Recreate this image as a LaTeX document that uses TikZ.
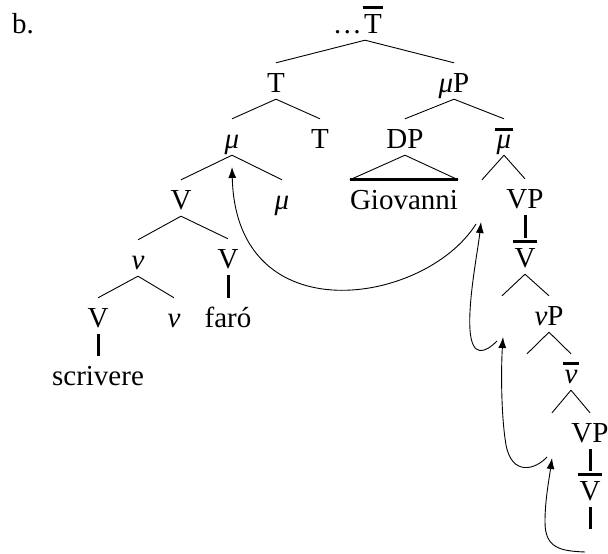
\documentclass[tikz,border=0pt]{standalone}
\usepackage{fontspec}
\setmainfont{Liberation Serif}
\usetikzlibrary{arrows.meta}
\newcommand{\barit}[2]{\setbox0=\hbox{#2}\leavevmode\rlap{\hspace{-1.5pt}\raisebox{#1}{\rule{\dimexpr\wd0+3pt\relax}{2.8pt}}}\box0}
\newcommand{\gmu}{\textit{μ}}
\newcommand{\gnu}{\textit{ν}}
\begin{document}
\begin{tikzpicture}[x=1pt,y=-1pt,
  lab/.style={inner xsep=0pt,inner ysep=2pt,text height=27pt,text depth=5pt,anchor=base,font=\fontsize{29}{34}\selectfont},
  branch/.style={line width=0.9pt},
  unary/.style={line width=3pt},
  mv/.style={line width=0.9pt,-{Latex[length=11pt,width=8pt]}}]
\useasboundingbox (0,0) rectangle (608,554);
% labels
\node[lab,anchor=base west] (lb) at (12,33) {b.};
\node[lab,anchor=base east] (dots) at (362,33) {…};
\node[lab] (top) at (373,33) {\barit{24pt}{T}};
\node[lab] (T1) at (276,92) {T};
\node[lab] (muP) at (454,92) {\gmu P};
\node[lab] (mu2) at (232,148) {\gmu};
\node[lab] (T2) at (320,148) {T};
\node[lab] (DP) at (405,148) {DP};
\node[lab] (mub) at (504,148) {\barit{17pt}{\gmu}};
\node[lab] (V3) at (181,209) {V};
\node[lab] (mu3) at (282,209) {\gmu};
\node[lab] (Gio) at (404,209) {Giovanni};
\node[lab] (t1) at (482,209) {};
\node[lab] (VP1) at (525,208) {VP};
\node[lab] (nu4) at (138,269) {\gnu};
\node[lab] (V4) at (228,268) {V};
\node[lab] (Vb1) at (525,267) {\barit{24pt}{V}};
\node[lab] (V5) at (98,327) {V};
\node[lab] (nu5) at (174,327) {\gnu};
\node[lab] (faro) at (228,327) {faró};
\node[lab] (t2) at (502,325) {};
\node[lab] (nuP) at (549,325) {\gnu P};
\node[lab] (scr) at (98,385) {scrivere};
\node[lab] (t3) at (527,383) {};
\node[lab] (nub) at (571,383) {\barit{18pt}{\gnu}};
\node[lab] (t4) at (552,442) {};
\node[lab] (VP2) at (590,442) {VP};
\node[lab] (Vb2) at (590,500) {\barit{24pt}{V}};
\coordinate (t5) at (590,529);
% branches
\draw[branch] ([xshift=-8pt]top.south) -- (T1.north);
\draw[branch] ([xshift=-8pt]top.south) -- (muP.north);
\draw[branch] (T1.south) -- (mu2.north);
\draw[branch] (T1.south) -- (T2.north);
\draw[branch] (muP.south) -- (DP.north);
\draw[branch] (muP.south) -- (mub.north);
\draw[branch] (mu2.south) -- (V3.north);
\draw[branch] (mu2.south) -- (mu3.north);
\draw[branch] (DP.south) -- (Gio.north west);
\draw[branch] (DP.south) -- (Gio.north east);
\draw[unary] (Gio.north west) -- (Gio.north east);
\draw[branch] (mub.south) -- (t1.north);
\draw[branch] (mub.south) -- (VP1.north);
\draw[branch] (V3.south) -- (nu4.north);
\draw[branch] (V3.south) -- (V4.north);
\draw[unary] (VP1.south) -- (Vb1.north);
\draw[branch] (nu4.south) -- (V5.north);
\draw[branch] (nu4.south) -- (nu5.north);
\draw[unary] (V4.south) -- (faro.north);
\draw[branch] (Vb1.south) -- (t2.north);
\draw[branch] (Vb1.south) -- (nuP.north);
\draw[unary] (V5.south) -- (scr.north);
\draw[branch] (nuP.south) -- (t3.north);
\draw[branch] (nuP.south) -- (nub.north);
\draw[branch] (nub.south) -- (t4.north);
\draw[branch] (nub.south) -- (VP2.north);
\draw[unary] (VP2.south) -- (Vb2.north);
\draw[unary] (Vb2.south) -- (t5);
% movement arrows
\coordinate (a1s) at (476,224); \coordinate (a1e) at (232,167);
\coordinate (a2s) at (497,341); \coordinate (a2e) at (481,222);
\coordinate (a3s) at (547,457); \coordinate (a3e) at (503,337);
\coordinate (a4s) at (585,552); \coordinate (a4e) at (552,458);
\draw[mv] (a1s) .. controls (425,305) and (236,335) .. (a1e);
\draw[mv] (a2s) .. controls (485,353) and (472,358) .. (470,330) .. controls (468,300) and (478,250) .. (a2e);
\draw[mv] (a3s) .. controls (535,470) and (512,476) .. (506,445) .. controls (501,415) and (501,370) .. (a3e);
\draw[mv] (a4s) .. controls (560,551) and (545,548) .. (545,522) .. controls (545,500) and (549,480) .. (a4e);
\end{tikzpicture}
\end{document}
